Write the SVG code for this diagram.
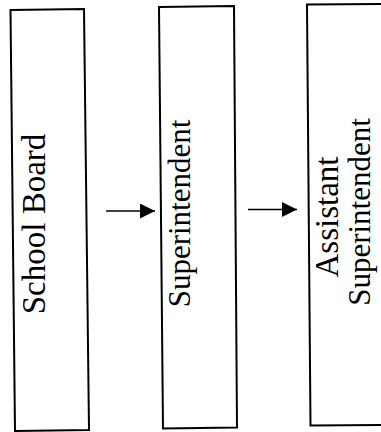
<svg xmlns="http://www.w3.org/2000/svg" width="381" height="432" viewBox="0 0 381 432">
<style>
.box{fill:#fff;stroke:#000;stroke-width:2}
.lbl{font-family:"Liberation Serif","Times New Roman",serif;font-size:32px;fill:#000;text-anchor:middle}
.conn{stroke:#000;stroke-width:1.6;fill:none}
</style>
<defs>
<marker id="ah" markerWidth="16" markerHeight="16" refX="15" refY="7.5" orient="auto" markerUnits="userSpaceOnUse">
<path d="M0,0 L15,7.5 L0,15 Z" fill="#000"/>
</marker>
</defs>
<rect width="381" height="432" fill="#fff"/>
<g id="connectors">
<line class="conn" x1="106" y1="211" x2="155" y2="211" marker-end="url(#ah)"/>
<line class="conn" x1="248" y1="209.5" x2="297" y2="209.5" marker-end="url(#ah)"/>
</g>
<g id="school-board">
<polygon class="box" points="10.5,10 84,9 89,430 15,431"/>
<text class="lbl" style="font-size:33px" transform="translate(45,224) rotate(-90)">School Board</text>
</g>
<g id="superintendent">
<polygon class="box" points="159,7 234,6 237,427.5 163,428.5"/>
<text class="lbl" style="font-size:31px" transform="translate(190,213.5) rotate(-90)">Superintendent</text>
</g>
<g id="assistant-superintendent">
<polyline class="box" points="383,4 307,4.5 310.5,425.5 383,425"/>
<text class="lbl" style="font-size:33px" transform="translate(338,217) rotate(-90)">Assistant</text>
<text class="lbl" style="font-size:31px" transform="translate(370,212) rotate(-90)">Superintendent</text>
</g>
</svg>
